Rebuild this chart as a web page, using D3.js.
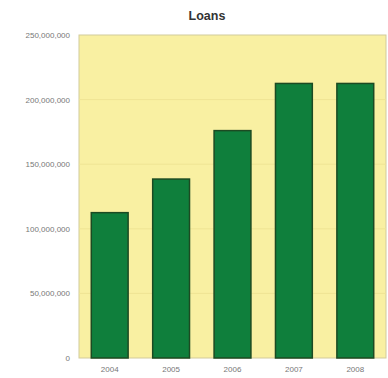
<!DOCTYPE html>
<html lang="en">
<head>
<meta charset="UTF-8">
<title>Loans</title>
<script src="https://cdn.jsdelivr.net/npm/d3@7"></script>
<style>
  body { margin: 0; background: #fff; }
  svg { font-family: 'Liberation Sans', Arial, sans-serif; display: block; }
  .tick text { fill: #777; font-size: 8px; }
  .title { font-size: 12.5px; font-weight: bold; fill: #333; }
</style>
</head>
<body>
<svg width="388" height="378"></svg>
<script>
  var years = ["2004", "2005", "2006", "2007", "2008"];
  var loans = [112500000, 138500000, 176000000, 212500000, 212500000];
  var yTicks = [0, 50000000, 100000000, 150000000, 200000000, 250000000];

  var svg = d3.select("svg");
  var plot = {left: 79, right: 386, top: 35, bottom: 358};

  var x = d3.scaleBand()
    .domain(years)
    .range([plot.left, plot.right])
    .paddingInner(0.4)
    .paddingOuter(0.2);

  var y = d3.scaleLinear()
    .domain([0, 250000000])
    .range([plot.bottom, plot.top]);

  // plot background
  svg.append("rect")
    .attr("x", plot.left)
    .attr("y", plot.top)
    .attr("width", plot.right - plot.left)
    .attr("height", plot.bottom - plot.top)
    .attr("fill", "#f9f0a2")
    .attr("stroke", "#d2cb9c")
    .attr("stroke-width", 1);

  // faint gridlines
  svg.append("g")
    .selectAll("line")
    .data(yTicks.slice(1, -1))
    .enter().append("line")
    .attr("x1", plot.left)
    .attr("x2", plot.right)
    .attr("y1", function (d) { return y(d); })
    .attr("y2", function (d) { return y(d); })
    .attr("stroke", "#efe494")
    .attr("stroke-width", 1);

  svg.append("g")
    .selectAll("rect")
    .data(loans)
    .enter().append("rect")
    .attr("x", function (d, i) { return x(years[i]); })
    .attr("y", function (d) { return y(d); })
    .attr("width", x.bandwidth())
    .attr("height", function (d) { return plot.bottom - y(d); })
    .attr("fill", "#0f7f3c")
    .attr("stroke", "#1c4a22")
    .attr("stroke-width", 1.5);

  var yAxis = svg.append("g")
    .attr("transform", "translate(" + plot.left + ",0)")
    .call(d3.axisLeft(y).tickValues(yTicks).tickSize(0).tickPadding(9)
      .tickFormat(d3.format(",")));
  yAxis.select(".domain").remove();

  var xAxis = svg.append("g")
    .attr("transform", "translate(0," + plot.bottom + ")")
    .call(d3.axisBottom(x).tickSize(0).tickPadding(8));
  xAxis.select(".domain").remove();

  svg.append("text")
    .attr("class", "title")
    .attr("x", 207)
    .attr("y", 20)
    .attr("text-anchor", "middle")
    .text("Loans");
</script>
</body>
</html>
